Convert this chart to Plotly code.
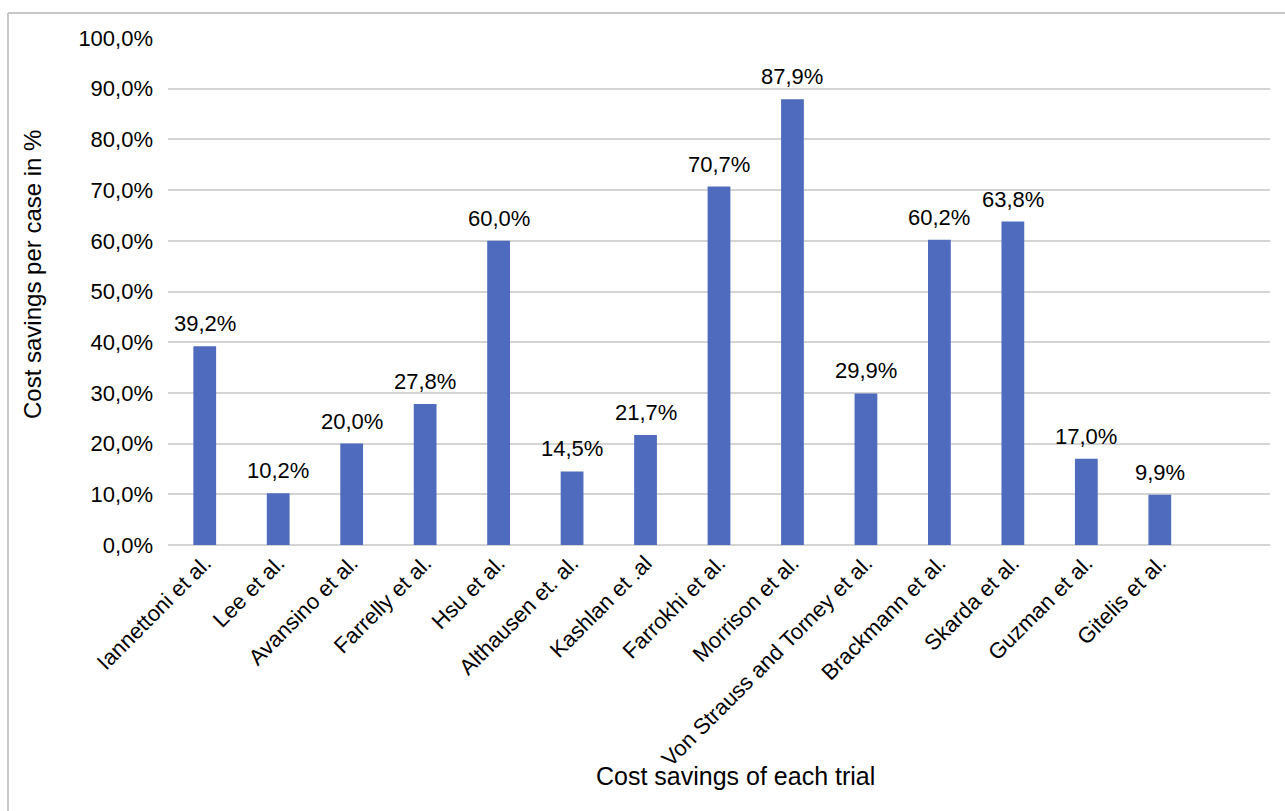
import plotly.graph_objects as go

categories = ["Iannettoni et al.", "Lee et al.", "Avansino et al.", "Farrelly et al.",
              "Hsu et al.", "Althausen et. al.", "Kashlan et .al", "Farrokhi et al.",
              "Morrison et al.", "Von Strauss and Torney et al.", "Brackmann et al.",
              "Skarda et al.", "Guzman et al.", "Gitelis et al."]
savings = [0.392, 0.102, 0.200, 0.278, 0.600, 0.145, 0.217, 0.707,
           0.879, 0.299, 0.602, 0.638, 0.170, 0.099]
y_ticks = [0.0, 0.1, 0.2, 0.3, 0.4, 0.5, 0.6, 0.7, 0.8, 0.9, 1.0]

FONT = "Liberation Sans, Arial, sans-serif"
W, H = 1285, 811
L, R, T, B = 168, 1270, 38, 545

fig = go.Figure(go.Bar(
    x=categories, y=savings,
    marker=dict(color="#4f6bbd", line=dict(width=0)),
    width=0.31,
    cliponaxis=False,
))

def px_x(p):
    return (p - L) / (R - L)

def px_y(p):
    return (B - p) / (B - T)

annotations = [
    dict(x=c, y=v, xref="x", yref="y", text=f"{v * 100:.1f}%".replace(".", ","),
         showarrow=False, yanchor="bottom", xanchor="center", yshift=8,
         font=dict(size=22, color="#000000", family=FONT))
    for c, v in zip(categories, savings)
]
annotations += [
    dict(text="Cost savings per case in %", xref="paper", yref="paper",
         x=px_x(32), y=px_y(275), textangle=-90, showarrow=False,
         font=dict(size=24, color="#000000", family=FONT),
         xanchor="center", yanchor="middle"),
    dict(text="Cost savings of each trial", xref="paper", yref="paper",
         x=px_x(735), y=px_y(776), showarrow=False,
         font=dict(size=25, color="#000000", family=FONT),
         xanchor="center", yanchor="middle"),
]

fig.update_layout(
    width=W, height=H,
    margin=dict(l=L, r=W - R, t=T, b=H - B),
    paper_bgcolor="#ffffff", plot_bgcolor="#ffffff",
    separators=",.",
    showlegend=False,
    font=dict(family=FONT, color="#000000"),
    xaxis=dict(
        range=[-0.5, 14.5], tickangle=-45, showgrid=False, ticks="",
        tickfont=dict(size=22, color="#000000", family=FONT),
        showline=False, zeroline=False, ticklabelstandoff=0,
    ),
    yaxis=dict(
        range=[0, 1.0], tickvals=y_ticks, tickformat=".1%",
        tickfont=dict(size=22, color="#000000", family=FONT),
        showgrid=True, gridcolor="#d4d4d4", gridwidth=2,
        zeroline=True, zerolinecolor="#d4d4d4", zerolinewidth=2,
        ticks="", ticklabelstandoff=14,
    ),
    annotations=annotations,
    shapes=[
        dict(type="line", xref="paper", yref="paper",
             x0=px_x(8), x1=px_x(8), y0=px_y(H + 5), y1=px_y(13),
             line=dict(color="#c8c8c8", width=2)),
        dict(type="line", xref="paper", yref="paper",
             x0=px_x(8), x1=px_x(W + 5), y0=px_y(13), y1=px_y(13),
             line=dict(color="#c8c8c8", width=2)),
    ],
)

fig.write_html("out.html")
